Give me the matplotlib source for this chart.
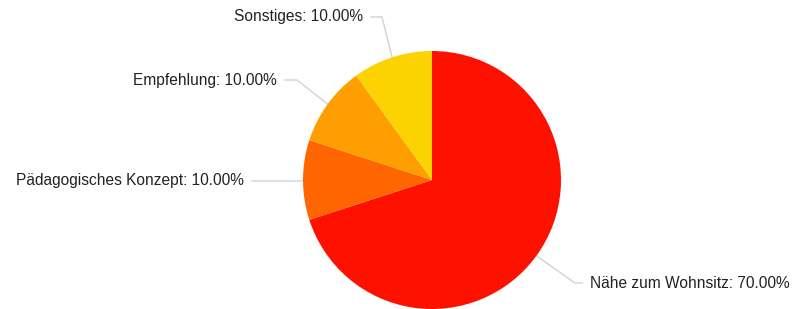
import numpy as np
import matplotlib.pyplot as plt

labels = ['Nähe zum Wohnsitz', 'Pädagogisches Konzept', 'Empfehlung', 'Sonstiges']
values = [70, 10, 10, 10]
colors = ['#FF1100', '#FF6600', '#FF9E00', '#FCD200']

plt.rcParams['font.family'] = ['Liberation Sans', 'DejaVu Sans']

W, H = 797, 309
fig = plt.figure(figsize=(W / 100, H / 100), dpi=100)
ax = fig.add_axes([0, 0, 1, 1])

cx, cy, r = 432, 180, 129
# y axis is flipped, so counterclock=True runs clockwise on screen, starting at the top
wedges, _ = ax.pie(values, colors=colors, startangle=-90, counterclock=True,
                   center=(cx, cy), radius=r, frame=True,
                   wedgeprops=dict(linewidth=0))
ax.set_xlim(0, W)
ax.set_ylim(H, 0)
ax.set_aspect('equal')
ax.axis('off')

# label layout: (elbow point, text anchor, ha)
layout = [
    ((575, 283), (590, 283), 'left'),
    ((304, 181), (244, 181), 'right'),
    ((297, 80), (277, 80), 'right'),
    ((382, 17), (363, 17), 'right'),
]

total = sum(values)
start = 90.0
for lab, val, (elbow, txt, ha) in zip(labels, values, layout):
    ang = start - val / total * 360 / 2
    start -= val / total * 360
    ex = cx + r * np.cos(np.radians(ang))
    ey = cy - r * np.sin(np.radians(ang))
    tx = txt[0] + (-8 if ha == 'left' else 8)
    ax.plot([ex, elbow[0], tx], [ey, elbow[1], elbow[1]],
            color='#d2d2d2', lw=1.0, zorder=0)
    ax.text(txt[0], txt[1], f'{lab}: {val:.2f}%', ha=ha, va='center',
            fontsize=11.2, color='#222222')

fig.savefig('out.png', dpi=100)
